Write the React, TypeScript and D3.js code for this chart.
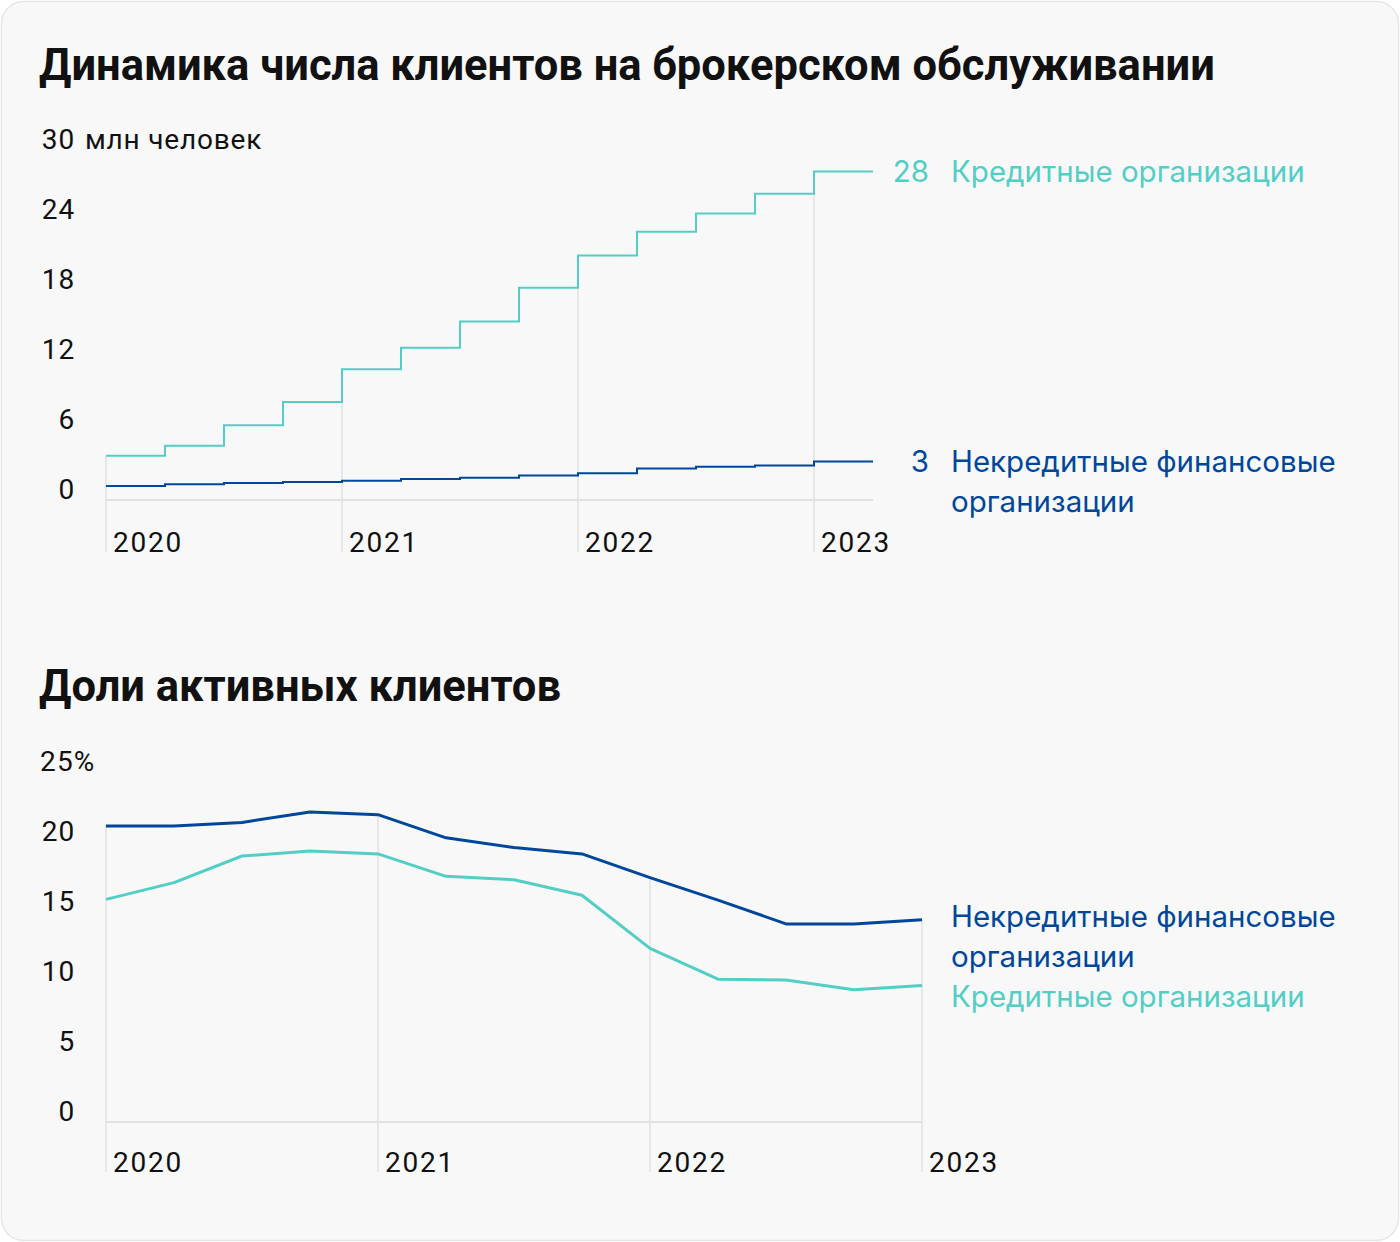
import React from "react";
import * as d3 from "d3";

const W = 1400;
const H = 1242;

const TITLE_TOP = "Динамика числа клиентов на брокерском обслуживании";
const TITLE_BOTTOM = "Доли активных клиентов";

const quartersTop = ["2020Q1","2020Q2","2020Q3","2020Q4","2021Q1","2021Q2","2021Q3","2021Q4","2022Q1","2022Q2","2022Q3","2022Q4","2023Q1"];
const creditClients = [3.8, 4.65, 6.4, 8.4, 11.2, 13.05, 15.3, 18.2, 20.95, 23.0, 24.55, 26.25, 28.15];
const nonCreditClients = [1.2, 1.35, 1.45, 1.55, 1.65, 1.8, 1.9, 2.1, 2.3, 2.7, 2.85, 2.95, 3.3];
const topTicks = [0, 6, 12, 18, 24, 30];
const topUnit = "млн человек";

const quartersBottom = ["2020Q1","2020Q2","2020Q3","2020Q4","2021Q1","2021Q2","2021Q3","2021Q4","2022Q1","2022Q2","2022Q3","2022Q4","2023Q1"];
const nonCreditActive = [21.15, 21.15, 21.4, 22.15, 21.95, 20.3, 19.6, 19.15, 17.45, 15.85, 14.15, 14.15, 14.45];
const creditActive = [15.9, 17.1, 19.0, 19.35, 19.15, 17.55, 17.3, 16.2, 12.4, 10.2, 10.15, 9.45, 9.75];
const bottomTicks = [0, 5, 10, 15, 20, 25];

const years = ["2020", "2021", "2022", "2023"];

const TEAL = "#52cec5";
const BLUE = "#00479c";
const GRID = "#e2e2e2";
const TEXT = "#111";

const TICK_FONT = "Roboto, sans-serif";
const LEGEND_FONT = "Inter, 'Noto Sans', sans-serif";
const TICK_SIZE = 28;
const LEGEND_SIZE = 29.5;
const TITLE_SIZE = 43.5;

export default function App() {
  const xTop = d3.scaleLinear().domain([0, quartersTop.length]).range([106, 873]);
  const yTop = d3.scaleLinear().domain([0, 30]).range([500, 150]);
  const step = d3
    .line<[number, number]>()
    .x((d) => xTop(d[0]))
    .y((d) => yTop(d[1]))
    .curve(d3.curveStepAfter);
  const stepPts = (vals: number[]): [number, number][] => [
    ...vals.map((v, i) => [i, v] as [number, number]),
    [vals.length, vals[vals.length - 1]],
  ];

  const xBot = d3.scaleLinear().domain([0, quartersBottom.length - 1]).range([106, 922]);
  const yBot = d3.scaleLinear().domain([0, 25]).range([1122, 772]);
  const line = d3
    .line<number>()
    .x((_, i) => xBot(i))
    .y((d) => yBot(d));

  const yearIdx = years.map((_, k) => k * 4);

  const lastC = creditClients[creditClients.length - 1];
  const lastN = nonCreditClients[nonCreditClients.length - 1];

  return (
    <svg
      width={W}
      height={H}
      viewBox={`0 0 ${W} ${H}`}
      style={{ position: "absolute", left: 0, top: 0, display: "block" }}
    >
      <rect x={0} y={0} width={W} height={H} fill="#ffffff" />
      <rect x={1.5} y={1.5} width={W - 3} height={H - 3} rx={22} fill="#f8f8f8" stroke="#e6e6e6" strokeWidth={1.5} />

      {/* ===== Top chart ===== */}
      <text x={39} y={80} fontFamily="Roboto, sans-serif" fontWeight={700} fontSize={TITLE_SIZE} fill={TEXT}>
        {TITLE_TOP}
      </text>

      {yearIdx.map((idx, k) => {
        const top = idx === 0 ? creditClients[0] : Math.min(creditClients[idx - 1], creditClients[idx]);
        return (
          <g key={"ty" + k}>
            <line x1={xTop(idx)} x2={xTop(idx)} y1={yTop(top)} y2={552} stroke={GRID} strokeWidth={1.5} />
            <text x={xTop(idx) + 7} y={552} fontFamily={TICK_FONT} fontSize={TICK_SIZE} letterSpacing={1.8} fill={TEXT}>
              {years[k]}
            </text>
          </g>
        );
      })}
      <line x1={xTop(0)} x2={xTop(quartersTop.length)} y1={yTop(0)} y2={yTop(0)} stroke={GRID} strokeWidth={2} />

      {topTicks.map((t) => (
        <text key={"tt" + t} x={75.5} y={yTop(t) - 1} textAnchor="end" fontFamily={TICK_FONT} fontSize={TICK_SIZE} letterSpacing={1.2} fill={TEXT}>
          {t}
        </text>
      ))}
      <text x={85} y={yTop(30) - 1} fontFamily={TICK_FONT} fontSize={TICK_SIZE} letterSpacing={0.8} fill={TEXT}>
        {topUnit}
      </text>

      <path d={step(stepPts(nonCreditClients)) || ""} fill="none" stroke={BLUE} strokeWidth={2} />
      <path d={step(stepPts(creditClients)) || ""} fill="none" stroke={TEAL} strokeWidth={2} />

      <text x={929} y={yTop(lastC) + 10} textAnchor="end" fontFamily={LEGEND_FONT} fontSize={LEGEND_SIZE} fill={TEAL}>
        {Math.round(lastC)}
      </text>
      <text x={951} y={yTop(lastC) + 10} fontFamily={LEGEND_FONT} fontSize={LEGEND_SIZE} fill={TEAL}>
        Кредитные организации
      </text>
      <text x={929} y={yTop(lastN) + 10} textAnchor="end" fontFamily={LEGEND_FONT} fontSize={LEGEND_SIZE} fill={BLUE}>
        {Math.round(lastN)}
      </text>
      <text x={951} y={yTop(lastN) + 10} fontFamily={LEGEND_FONT} fontSize={LEGEND_SIZE} fill={BLUE}>
        <tspan x={951}>Некредитные финансовые</tspan>
        <tspan x={951} dy={40}>организации</tspan>
      </text>

      {/* ===== Bottom chart ===== */}
      <text x={39} y={701} fontFamily="Roboto, sans-serif" fontWeight={700} fontSize={TITLE_SIZE} fill={TEXT}>
        {TITLE_BOTTOM}
      </text>

      {yearIdx.map((idx, k) => (
        <g key={"by" + k}>
          <line x1={xBot(idx)} x2={xBot(idx)} y1={yBot(nonCreditActive[idx])} y2={1172} stroke={GRID} strokeWidth={1.5} />
          <text x={xBot(idx) + 7} y={1172} fontFamily={TICK_FONT} fontSize={TICK_SIZE} letterSpacing={1.8} fill={TEXT}>
            {years[k]}
          </text>
        </g>
      ))}
      <line x1={xBot(0)} x2={xBot(quartersBottom.length - 1)} y1={yBot(0)} y2={yBot(0)} stroke={GRID} strokeWidth={2} />

      {bottomTicks.map((t) => (
        <text key={"bt" + t} x={t === 25 ? 40 : 75.5} y={yBot(t) - 1} textAnchor={t === 25 ? "start" : "end"} fontFamily={TICK_FONT} fontSize={TICK_SIZE} letterSpacing={1.2} fill={TEXT}>
          {t === 25 ? `${t}%` : t}
        </text>
      ))}

      <path d={line(creditActive) || ""} fill="none" stroke={TEAL} strokeWidth={3} strokeLinejoin="round" />
      <path d={line(nonCreditActive) || ""} fill="none" stroke={BLUE} strokeWidth={3} strokeLinejoin="round" />

      <text x={951} y={927} fontFamily={LEGEND_FONT} fontSize={LEGEND_SIZE} fill={BLUE}>
        <tspan x={951}>Некредитные финансовые</tspan>
        <tspan x={951} dy={40}>организации</tspan>
      </text>
      <text x={951} y={1007} fontFamily={LEGEND_FONT} fontSize={LEGEND_SIZE} fill={TEAL}>
        Кредитные организации
      </text>
    </svg>
  );
}
